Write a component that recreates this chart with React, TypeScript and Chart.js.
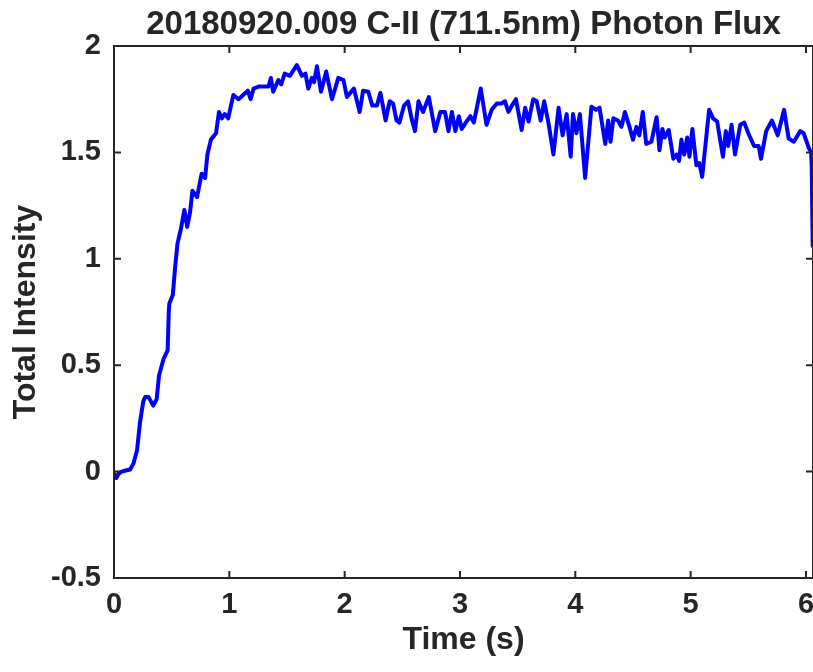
import React, { useEffect, useRef } from "react";
import { Chart, registerables } from "chart.js";

Chart.register(...registerables);

const TITLE = "20180920.009 C-II (711.5nm) Photon Flux";
const X_LABEL = "Time (s)";
const Y_LABEL = "Total Intensity";
const X_TICKS = [0, 1, 2, 3, 4, 5, 6];
const Y_TICKS = [-0.5, 0, 0.5, 1, 1.5, 2];

const timeS = [
  0.0, 0.02, 0.04, 0.067, 0.1, 0.14, 0.17, 0.2, 0.225, 0.254, 0.27, 0.3, 0.34, 0.37, 0.39, 0.43, 0.465, 0.475,
  0.48, 0.51, 0.53, 0.55, 0.58, 0.61, 0.635, 0.66, 0.68, 0.72, 0.76, 0.79, 0.81, 0.84, 0.885, 0.91, 0.935, 0.96,
  0.99, 1.035, 1.08, 1.12, 1.16, 1.185, 1.21, 1.26, 1.3, 1.34, 1.36, 1.38, 1.425, 1.45, 1.48, 1.525, 1.585, 1.63,
  1.66, 1.685, 1.715, 1.735, 1.76, 1.795, 1.84, 1.89, 1.945, 1.99, 2.02, 2.08, 2.13, 2.16, 2.205, 2.24, 2.28, 2.31,
  2.355, 2.39, 2.42, 2.45, 2.475, 2.515, 2.55, 2.58, 2.61, 2.64, 2.68, 2.73, 2.785, 2.83, 2.87, 2.9, 2.93, 2.96,
  2.99, 3.015, 3.05, 3.09, 3.12, 3.18, 3.23, 3.275, 3.32, 3.36, 3.39, 3.42, 3.45, 3.485, 3.535, 3.565, 3.595, 3.635,
  3.665, 3.7, 3.73, 3.77, 3.81, 3.855, 3.89, 3.925, 3.96, 3.98, 4.01, 4.04, 4.085, 4.14, 4.18, 4.21, 4.26, 4.285,
  4.305, 4.33, 4.37, 4.4, 4.43, 4.47, 4.5, 4.53, 4.555, 4.585, 4.615, 4.66, 4.705, 4.73, 4.755, 4.775, 4.81, 4.85,
  4.88, 4.9, 4.92, 4.945, 4.97, 4.99, 5.015, 5.05, 5.075, 5.1, 5.16, 5.195, 5.23, 5.28, 5.305, 5.325, 5.355, 5.385,
  5.43, 5.465, 5.5, 5.55, 5.59, 5.61, 5.655, 5.705, 5.755, 5.81, 5.85, 5.895, 5.95, 5.98, 6.025, 6.045, 6.05, 6.058,
];

const intensity = [
  -0.01, -0.03, -0.01, 0.0, 0.005, 0.01, 0.04, 0.1, 0.23, 0.33, 0.35, 0.35, 0.31, 0.34, 0.45, 0.53, 0.57, 0.75,
  0.79, 0.83, 0.96, 1.07, 1.14, 1.23, 1.15, 1.22, 1.32, 1.29, 1.4, 1.38, 1.49, 1.56, 1.59, 1.69, 1.66, 1.68,
  1.66, 1.77, 1.75, 1.77, 1.79, 1.75, 1.8, 1.81, 1.81, 1.81, 1.85, 1.785, 1.84, 1.82, 1.87, 1.86, 1.91, 1.86,
  1.87, 1.8, 1.85, 1.83, 1.905, 1.785, 1.88, 1.75, 1.85, 1.84, 1.76, 1.8, 1.69, 1.79, 1.785, 1.72, 1.72, 1.78,
  1.65, 1.74, 1.73, 1.65, 1.64, 1.72, 1.74, 1.66, 1.6, 1.74, 1.69, 1.76, 1.6, 1.69, 1.69, 1.6, 1.69, 1.6,
  1.67, 1.61, 1.64, 1.67, 1.64, 1.8, 1.63, 1.7, 1.73, 1.73, 1.74, 1.69, 1.72, 1.75, 1.605, 1.71, 1.645, 1.75,
  1.74, 1.65, 1.74, 1.63, 1.49, 1.71, 1.58, 1.68, 1.48, 1.68, 1.59, 1.68, 1.38, 1.715, 1.7, 1.71, 1.54, 1.65,
  1.55, 1.66, 1.65, 1.62, 1.69, 1.62, 1.56, 1.62, 1.58, 1.69, 1.54, 1.55, 1.665, 1.51, 1.61, 1.57, 1.605, 1.47,
  1.49, 1.46, 1.56, 1.49, 1.57, 1.48, 1.61, 1.44, 1.45, 1.385, 1.7, 1.66, 1.645, 1.48, 1.6, 1.53, 1.63, 1.49,
  1.63, 1.64, 1.59, 1.53, 1.53, 1.47, 1.6, 1.65, 1.58, 1.7, 1.565, 1.55, 1.6, 1.59, 1.52, 1.5, 1.43, 1.06,
];

const AXIS_COLOR = "#262626";
const FONT_FAMILY = "'Liberation Sans', Arial, Helvetica, sans-serif";

const boxPlugin = {
  id: "matlabBox",
  afterDraw(chart: any) {
    const { ctx, chartArea, scales } = chart;
    const { left, right, top, bottom } = chartArea;
    ctx.save();
    ctx.strokeStyle = AXIS_COLOR;
    ctx.lineWidth = 2;
    ctx.strokeRect(left, top, right - left, bottom - top);
    const tl = 7;
    ctx.beginPath();
    X_TICKS.forEach((v) => {
      const px = scales.x.getPixelForValue(v);
      ctx.moveTo(px, bottom);
      ctx.lineTo(px, bottom - tl);
      ctx.moveTo(px, top);
      ctx.lineTo(px, top + tl);
    });
    Y_TICKS.forEach((v) => {
      const py = scales.y.getPixelForValue(v);
      ctx.moveTo(left, py);
      ctx.lineTo(left + tl, py);
      ctx.moveTo(right, py);
      ctx.lineTo(right - tl, py);
    });
    ctx.stroke();
    ctx.restore();
  },
};

export default function App() {
  const ref = useRef<HTMLCanvasElement | null>(null);

  useEffect(() => {
    if (!ref.current) return;
    const data = timeS.map((t, i) => ({ x: t, y: intensity[i] }));
    const chart = new Chart(ref.current, {
      type: "line",
      data: {
        datasets: [
          {
            data,
            borderColor: "#0000ff",
            borderWidth: 4,
            borderJoinStyle: "round",
            borderCapStyle: "round",
            pointRadius: 0,
            tension: 0,
            fill: false,
          },
        ],
      },
      plugins: [boxPlugin],
      options: {
        animation: false,
        responsive: false,
        devicePixelRatio: 1,
        events: [],
        layout: { padding: 0 },
        plugins: {
          legend: { display: false },
          tooltip: { enabled: false },
          title: {
            display: true,
            text: TITLE,
            fullSize: false,
            color: AXIS_COLOR,
            font: { family: FONT_FAMILY, size: 33, weight: "bold" },
            padding: { top: 5, bottom: 1.4 },
          },
        },
        scales: {
          x: {
            type: "linear",
            min: 0,
            max: 6.061,
            grid: { display: false, drawTicks: false },
            border: { display: false },
            ticks: {
              stepSize: 1,
              includeBounds: false,
              autoSkip: false,
              maxRotation: 0,
              padding: 10,
              color: AXIS_COLOR,
              font: { family: FONT_FAMILY, size: 29, weight: "bold" },
              callback: (v: any) => String(v),
            },
            afterBuildTicks: (scale: any) => {
              scale.ticks = X_TICKS.map((v) => ({ value: v }));
            },
            title: {
              display: true,
              text: X_LABEL,
              color: AXIS_COLOR,
              font: { family: FONT_FAMILY, size: 32, weight: "bold" },
              padding: { top: 0, bottom: 13 },
            },
            afterFit: (scale: any) => {
              scale.height = 94;
              scale.paddingLeft = 0;
              scale.paddingRight = 0;
            },
          },
          y: {
            type: "linear",
            min: -0.5,
            max: 2,
            grid: { display: false, drawTicks: false },
            border: { display: false },
            ticks: {
              stepSize: 0.5,
              includeBounds: false,
              autoSkip: false,
              padding: 13,
              color: AXIS_COLOR,
              font: { family: FONT_FAMILY, size: 29, weight: "bold" },
              callback: (v: any) => String(v),
            },
            afterBuildTicks: (scale: any) => {
              scale.ticks = Y_TICKS.map((v) => ({ value: v }));
            },
            title: {
              display: true,
              text: Y_LABEL,
              color: AXIS_COLOR,
              font: { family: FONT_FAMILY, size: 32, weight: "bold" },
              padding: { top: 7, bottom: 0 },
            },
            afterFit: (scale: any) => {
              scale.width = 114;
              scale.paddingTop = 0;
              scale.paddingBottom = 0;
            },
          },
        },
      },
    });
    return () => chart.destroy();
  }, []);

  return (
    <div
      style={{
        position: "fixed",
        left: 0,
        top: 0,
        width: 813,
        height: 672,
        overflow: "hidden",
        background: "#ffffff",
      }}
    >
      <canvas ref={ref} width={813} height={672} style={{ display: "block", width: 813, height: 672 }} />
    </div>
  );
}
